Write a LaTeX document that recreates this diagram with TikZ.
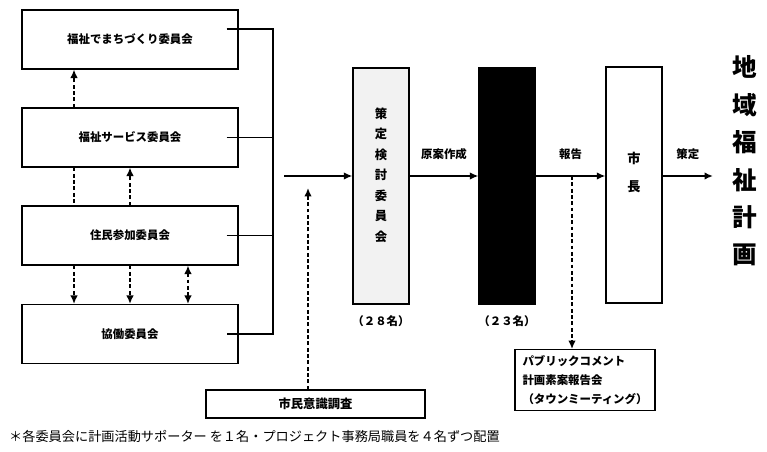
\documentclass[tikz,border=0pt]{standalone}
\usepackage{fontspec}
\newfontfamily\gothic{Noto Sans CJK JP}
\usetikzlibrary{arrows.meta,calc,positioning}

\begin{document}
\begin{tikzpicture}[x=0.02cm,y=-0.02cm,
    >={Latex[length=1.7mm,width=1.5mm]},
    every node/.style={font=\gothic},
    cbox/.style={draw,line width=.6pt,minimum width=4.32cm,minimum height=1.18cm,
                 font=\gothic\bfseries\fontsize{6.5}{8}\selectfont},
    tallbox/.style={draw,line width=.7pt,minimum width=1.12cm,minimum height=4.72cm},
    vtext/.style={align=center,font=\gothic\bfseries\fontsize{7}{11.7}\selectfont},
    lbl/.style={font=\gothic\bfseries\fontsize{6.5}{8}\selectfont},
    arr/.style={->,line width=1pt},
    darr/.style={->,line width=.9pt,dash pattern=on 2.2pt off 1.4pt},
    bus/.style={line width=.6pt}]
    \useasboundingbox (0,0) rectangle (767,452);
    % committees on the left
    \node[cbox] (fukushi) at (130,39.5) {福祉でまちづくり委員会};
    \node[cbox] (service) at (130,137.5) {福祉サービス委員会};
    \node[cbox] (jumin) at (130,235.5) {住民参加委員会};
    \node[cbox] (kyodo) at (130,334) {協働委員会};
    \draw[darr] ([xshift=-1.12cm]service.north) -- ([xshift=-1.12cm]fukushi.south);
    \draw[darr,-] ([xshift=-1.12cm]service.south) -- ([xshift=-1.12cm]jumin.north);
    \draw[darr] (jumin.north) -- (service.south);
    \draw[darr] ([xshift=-1.12cm]jumin.south) -- ([xshift=-1.12cm]kyodo.north);
    \draw[darr] (jumin.south) -- (kyodo.north);
    \draw[darr,<->] ([xshift=1.16cm]jumin.south) -- ([xshift=1.16cm]kyodo.north);
    % bus line
    \coordinate (bustop) at (273,29);
    \coordinate (join) at (284,176);
    \draw[bus] ([shift={(-12,-10.5)}]fukushi.east) -- (bustop) |- ([xshift=-0.24cm]kyodo.east);
    \draw[bus] ([xshift=-0.24cm]service.east) -- (service.east -| bustop);
    \draw[bus] ([xshift=-0.24cm]jumin.east) -- (jumin.east -| bustop);
    % main flow
    \node[tallbox,fill=gray!10] (sakutei) at (381,186) {};
    \node[vtext] (sakuteiname) at (381,175) {策\\定\\検\\討\\委\\員\\会};
    \node[lbl,below=1mm of sakutei] (sakuteinum) {（２８名）};
    \node[tallbox,fill=black] (jimukyoku) at (507,186) {};
    \node[lbl,below=1mm of jimukyoku] (jimunum) {（２３名）};
    \node[tallbox] (mayor) at (634,185) {};
    \node[vtext,font=\gothic\bfseries\fontsize{7.5}{16.4}\selectfont] (mayorname) at (634,172.5) {市\\長};
    \node[align=center,font=\gothic\bfseries\fontsize{14}{21.3}\selectfont] (plan) at (745,161) {地\\域\\福\\祉\\計\\画};
    \coordinate (plantip) at (713,176);
    \draw[arr] (join) -- (join -| sakutei.west);
    \draw[arr] (join -| sakutei.east) -- node[lbl,above=2mm] (draft) {原案作成} (join -| jimukyoku.west);
    \draw[arr] (join -| jimukyoku.east) -- node[lbl,above=2mm] (report) {報告} (join -| mayor.west);
    \draw[arr] (join -| mayor.east) -- node[lbl,above=2mm] (decide) {策定} (plantip);
    % survey and public comment
    \node[draw,line width=.6pt,minimum width=4.38cm,minimum height=0.56cm,
          font=\gothic\bfseries\fontsize{7}{8}\selectfont] (ishiki) at (315.5,404) {市民意識調査};
    \coordinate (surveytip) at (308,188);
    \draw[darr] (ishiki.north -| surveytip) -- (surveytip);
    \node[draw,line width=.6pt,minimum width=2.8cm,minimum height=1.2cm,align=left,
          font=\gothic\bfseries\fontsize{6.5}{10.8}\selectfont] (pubcom) at (585,380)
          {パブリックコメント\\計画素案報告会\\（タウンミーティング）};
    \coordinate (branch) at (572,176);
    \draw[darr] (branch) -- (branch |- pubcom.north);
    % footnote
    \node[anchor=west,font=\gothic\fontsize{7.5}{9}\selectfont] (note) at (3,436)
          {＊各委員会に計画活動サポーター を１名・プロジェクト事務局職員を４名ずつ配置};
\end{tikzpicture}
\end{document}
